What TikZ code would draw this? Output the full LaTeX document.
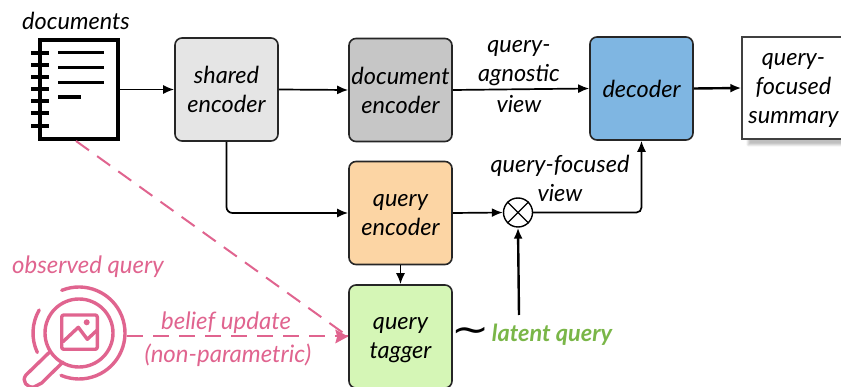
\documentclass[tikz,border=0pt]{standalone}
\usepackage{fontspec}
\setmainfont{Lato}
\newfontfamily\symfont{DejaVu Sans}
\usetikzlibrary{arrows.meta,calc,shadows.blur}
\definecolor{pinkq}{HTML}{E0648F}
\definecolor{greenq}{HTML}{7AB648}
\newcommand{\toppad}[1]{\rule{0pt}{#1pt}}
\tikzset{
  x=1pt,y=-1pt,
  every node/.style={font=\fontsize{23.5}{29}\selectfont\itshape,text=black,align=center,inner sep=0pt},
  block/.style={draw=black!85,line width=1.6pt,rounded corners=7pt,minimum width=103pt,minimum height=103pt},
  conn/.style={draw=black,line width=1.7pt,-{Latex[length=11pt,width=9pt]}},
  pinkline/.style={draw=pinkq,line width=2pt,dash pattern=on 16pt off 10pt},
  pinklabel/.style={text=pinkq,font=\fontsize{24}{29}\selectfont\itshape},
  icon/.style={draw=pinkq,line width=3.4pt,line cap=round,line join=round},
  docline/.style={draw=black,line width=3.4pt}
}
\begin{document}
\begin{tikzpicture}
\useasboundingbox (0,0) rectangle (841,387);
\clip (0,0) rectangle (841,387);
% documents icon
\node (doclabel) at (76,21) {documents};
\node[draw=black,line width=3.8pt,minimum width=78pt,minimum height=99pt,outer sep=0pt] (docs) at (79,89.5) {};
\foreach \yy in {53,65,77,89,101,113,126} \draw[docline] (31,\yy) -- (49,\yy);
\draw[docline] (58,52.7) -- (104,52.7);
\draw[docline] (58,67.7) -- (104,67.7);
\draw[docline] (58,82.3) -- (104,82.3);
\draw[docline] (58,97) -- (81,97);
% boxes
\node[block,fill={rgb,255:red,229;green,229;blue,229}] (shared) at (226.5,89.5) {shared\\encoder};
\node[block,fill={rgb,255:red,198;green,198;blue,198}] (docenc) at (400.5,90) {document\\encoder};
\node[block,fill={rgb,255:red,127;green,182;blue,226}] (dec) at (641.5,88.5) {decoder};
\node[draw=black!75,line width=1.4pt,fill=white,minimum width=103pt,minimum height=102pt,blur shadow={shadow xshift=6pt,shadow yshift=-6pt,shadow blur steps=8,shadow opacity=25}] (summary) at (793.5,88) {\toppad{18}query-\\focused\\summary};
\node[block,fill={rgb,255:red,252;green,213;blue,164}] (qenc) at (400.5,213) {\toppad{16}query\\encoder};
\node[block,fill={rgb,255:red,213;green,246;blue,182}] (qtag) at (400.5,336.5) {\toppad{20}query\\tagger};
\node[draw=black,line width=1.4pt,circle,minimum size=29pt,fill=white] (otimes) at (518,212.5) {};
\draw[black,line width=1.4pt] (otimes.north west) -- (otimes.south east) (otimes.north east) -- (otimes.south west);
% labels
\node (qa) at (519,76.5) {query-\\agnostic\\[2pt]view};
\node (qf) at (560,178.5) {query-focused\\view};
\node (tilde) at (471,335) {\scalebox{1.2}[1]{\symfont\fontsize{38}{38}\selectfont\upshape ∼}};
\node[text=greenq,font=\fontsize{23.5}{28}\selectfont\itshape\bfseries] (latent) at (552,335) {latent query};
\node[pinklabel] (obs) at (88,267) {observed query};
\node[pinklabel] (belief) at (226,323) {belief update};
\node[pinklabel] (nonpar) at (228,355) {(non-parametric)};
% connectors
\draw[conn] (docs.east) -- (shared.west);
\draw[conn] (shared.east) -- (docenc.west);
\draw[conn] (docenc.east) -- (dec.west);
\draw[conn,line width=2.4pt] (dec.east) -- (summary.west);
\draw[conn,rounded corners=6pt] (shared.south) |- (qenc.west);
\draw[conn] (qenc.east) -- (otimes.west);
\draw[conn,rounded corners=5pt] (otimes.east) -| (dec.south);
\draw[conn] (qenc.south) -- (qtag.north);
\coordinate (lq) at (519,315);
\draw[conn,line width=2.4pt] (lq) -- (otimes.south);
% pink
\coordinate (docfoot) at (76,141);
\coordinate (lens) at (127,336.5);
\draw[pinkline] (lens) -- (qtag.west);
\draw[pinkline] (docfoot) -- (qtag.west);
\fill[pinkq] (qtag.west) -- ++(-13,-7) -- ++(2,7) -- ++(-2,7) -- cycle;
% magnifier
\coordinate (mg) at (79,333);
\draw[icon] (mg) circle (34);
\draw[icon] (mg) ++(-112:46) arc[start angle=-112,end angle=113,radius=46];
\draw[icon] (mg) ++(155:46) arc[start angle=155,end angle=210,radius=46];
\draw[icon] (50,351.7) -- (26,375) .. controls (21,381) and (27,388) .. (34,387) -- (41.7,383) -- (63,362);
\draw[icon,rounded corners=2pt] (61.7,315) rectangle (97.3,349.3);
\draw[icon] (63,341.7) -- (78.3,327.3) -- (87.3,339.3) -- (97.3,330);
\fill[pinkq] (86.7,322.3) circle (3);
\end{tikzpicture}
\end{document}
